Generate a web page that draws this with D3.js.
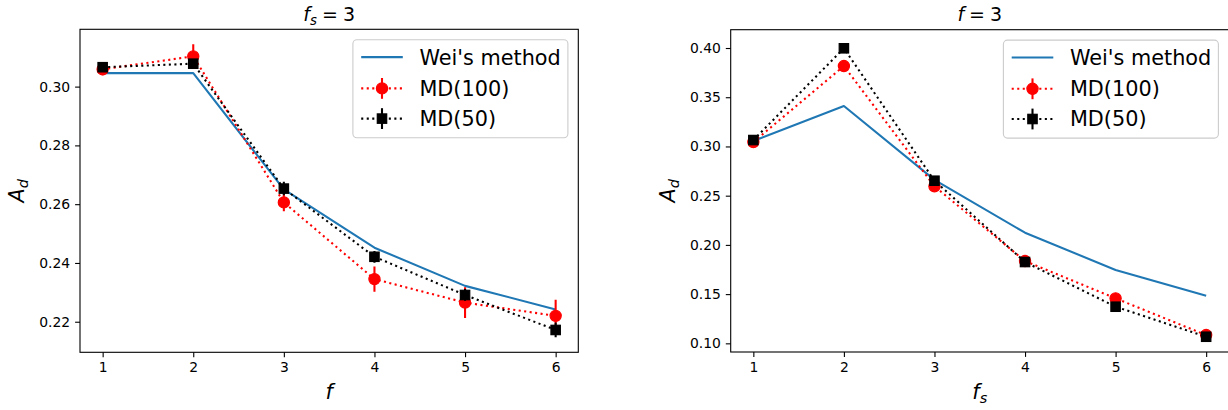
<!DOCTYPE html>
<html>
<head>
<meta charset="utf-8">
<script src="https://cdn.jsdelivr.net/npm/d3@7"></script>
<style>
  body { margin: 0; background: #fff; }
  svg { display: block; font-family: "DejaVu Sans", sans-serif; }
</style>
</head>
<body>
<div class="graphic"></div>
<script>
// x positions (f or fs)
var xs = [1, 2, 3, 4, 5, 6];

// left panel: fs = 3, x = f
var weiLeft = [0.3046, 0.3046, 0.2650, 0.2452, 0.2322, 0.2242];
var md100Left = [0.3059, 0.3103, 0.2606, 0.2345, 0.2265, 0.2220];
var md100LeftErr = [0.002, 0.0041, 0.0030, 0.0043, 0.0052, 0.0055];
var md50Left = [0.3066, 0.3078, 0.2653, 0.2421, 0.2291, 0.2172];
var md50LeftErr = [0.0015, 0.0015, 0.0023, 0.0020, 0.0020, 0.0025];

// right panel: f = 3, x = fs
var weiRight = [0.3055, 0.3411, 0.2660, 0.2124, 0.1745, 0.1484];
var md100Right = [0.3045, 0.3817, 0.2595, 0.1836, 0.1457, 0.1084];
var md100RightErr = [0.003, 0.003, 0.003, 0.003, 0.003, 0.003];
var md50Right = [0.3065, 0.3997, 0.2652, 0.1826, 0.1372, 0.1067];
var md50RightErr = [0.002, 0.002, 0.002, 0.002, 0.002, 0.002];

var leftYTicks = [0.22, 0.24, 0.26, 0.28, 0.30];
var rightYTicks = [0.10, 0.15, 0.20, 0.25, 0.30, 0.35, 0.40];

var legendLabels = ["Wei's method", "MD(100)", "MD(50)"];

var BLUE = "#1f77b4";
var LW = 2.08;

var svg = d3.select(".graphic").append("svg")
  .attr("width", 1228).attr("height", 410);

function panel(opts) {
  var g = svg.append("g");
  var x = d3.scaleLinear().domain([0.75, 6.25]).range([opts.left, opts.right]);
  var y = d3.scaleLinear().domain(opts.ydom).range([opts.bottom, opts.top]);

  var clipId = "clip" + opts.id;
  svg.append("clipPath").attr("id", clipId).append("rect")
    .attr("x", opts.left).attr("y", opts.top)
    .attr("width", opts.right - opts.left).attr("height", opts.bottom - opts.top);

  var plot = g.append("g").attr("clip-path", "url(#" + clipId + ")");

  var line = d3.line().x(function(d, i) { return x(xs[i]); }).y(function(d) { return y(d); });

  // Wei's method
  plot.append("path").datum(opts.wei)
    .attr("d", line).attr("fill", "none")
    .attr("stroke", BLUE).attr("stroke-width", LW).attr("stroke-linejoin", "round");

  function series(vals, errs, color, shape) {
    plot.append("path").datum(vals)
      .attr("d", line).attr("fill", "none")
      .attr("stroke", color).attr("stroke-width", LW)
      .attr("stroke-dasharray", "2.08,3.44");
    plot.selectAll(null).data(vals).enter().append("line")
      .attr("x1", function(d, i) { return x(xs[i]); })
      .attr("x2", function(d, i) { return x(xs[i]); })
      .attr("y1", function(d, i) { return y(d - errs[i]); })
      .attr("y2", function(d, i) { return y(d + errs[i]); })
      .attr("stroke", color).attr("stroke-width", LW);
    if (shape === "circle") {
      plot.selectAll(null).data(vals).enter().append("circle")
        .attr("cx", function(d, i) { return x(xs[i]); })
        .attr("cy", function(d) { return y(d); })
        .attr("r", 5.6).attr("fill", color).attr("stroke", color).attr("stroke-width", 1.2);
    } else {
      plot.selectAll(null).data(vals).enter().append("rect")
        .attr("x", function(d, i) { return x(xs[i]) - 4.7; })
        .attr("y", function(d) { return y(d) - 4.7; })
        .attr("width", 9.4).attr("height", 9.4)
        .attr("fill", color).attr("stroke", color).attr("stroke-width", 1.2);
    }
  }
  series(opts.md100, opts.md100Err, "red", "circle");
  series(opts.md50, opts.md50Err, "black", "square");

  // axes
  var xAxis = d3.axisBottom(x).tickValues(xs).tickSize(4.9).tickPadding(4.9).tickFormat(d3.format("d"));
  var gx = g.append("g").attr("transform", "translate(0," + opts.bottom + ")").call(xAxis);
  var yAxis = d3.axisLeft(y).tickValues(opts.yticks).tickSize(4.9).tickPadding(4.9).tickFormat(d3.format(".2f"));
  var gy = g.append("g").attr("transform", "translate(" + opts.left + ",0)").call(yAxis);
  [gx, gy].forEach(function(a) {
    a.select(".domain").remove();
    a.selectAll("line").attr("stroke", "#000").attr("stroke-width", 1.1);
    a.selectAll("text").attr("font-size", "13.9px").attr("fill", "#000")
      .attr("font-family", "DejaVu Sans");
  });
  gx.selectAll("text").attr("dy", "0.72em");

  g.append("rect")
    .attr("x", opts.left).attr("y", opts.top)
    .attr("width", opts.right - opts.left).attr("height", opts.bottom - opts.top)
    .attr("fill", "none").attr("stroke", "#000").attr("stroke-width", 1.1);

  // title (mathtext-like spacing around "=")
  var cx = (opts.left + opts.right) / 2;
  var t = g.append("text").attr("x", cx).attr("y", 21).attr("text-anchor", "middle")
    .attr("font-size", "19px");
  t.append("tspan").attr("font-style", "italic").text("f");
  if (opts.titleSub) {
    t.append("tspan").attr("font-style", "italic").attr("font-size", "13.3px").attr("dy", 3.8).text(opts.titleSub);
    t.append("tspan").attr("dy", -3.8).attr("dx", 5).text("=");
  } else {
    t.append("tspan").attr("dx", 5).text("=");
  }
  t.append("tspan").attr("dx", 5).text("3");

  // x label
  var xl = g.append("text").attr("x", cx).attr("y", 399).attr("text-anchor", "middle")
    .attr("font-size", "20.8px");
  xl.append("tspan").attr("font-style", "italic").text("f");
  if (opts.xSub) {
    xl.append("tspan").attr("font-style", "italic").attr("font-size", "14.5px").attr("dy", 4).text(opts.xSub);
  }

  // y label
  var yl = g.append("text")
    .attr("transform", "translate(" + opts.ylabX + "," + ((opts.top + opts.bottom) / 2) + ") rotate(-90)")
    .attr("text-anchor", "middle").attr("font-size", "20.8px");
  yl.append("tspan").attr("font-style", "italic").text("A");
  yl.append("tspan").attr("font-style", "italic").attr("font-size", "14.5px").attr("dy", 4).text("d");

  // legend
  var lw = 215, lh = 98;
  var lx = opts.right - 10.4 - lw, ly = opts.top + 10.4;
  var leg = g.append("g");
  leg.append("rect").attr("x", lx).attr("y", ly).attr("width", lw).attr("height", lh)
    .attr("rx", 4).attr("fill", "#fff").attr("fill-opacity", 0.8)
    .attr("stroke", "#cccccc").attr("stroke-width", 1.1);
  var rows = [17.4, 48.7, 78.9];
  var colors = [BLUE, "red", "black"];
  legendLabels.forEach(function(lab, i) {
    var ry = ly + rows[i];
    var hx0 = lx + 8.3, hx1 = hx0 + 41.6, hm = (hx0 + hx1) / 2;
    var ln = leg.append("line").attr("x1", hx0).attr("x2", hx1).attr("y1", ry).attr("y2", ry)
      .attr("stroke", colors[i]).attr("stroke-width", LW);
    if (i > 0) {
      ln.attr("stroke-dasharray", "2.08,3.44");
      leg.append("line").attr("x1", hm).attr("x2", hm).attr("y1", ry - 10.4).attr("y2", ry + 10.4)
        .attr("stroke", colors[i]).attr("stroke-width", LW);
      if (i === 1) {
        leg.append("circle").attr("cx", hm).attr("cy", ry).attr("r", 5.6).attr("fill", "red")
          .attr("stroke", "red").attr("stroke-width", 1.2);
      } else {
        leg.append("rect").attr("x", hm - 4.7).attr("y", ry - 4.7).attr("width", 9.4).attr("height", 9.4)
          .attr("fill", "black").attr("stroke", "black").attr("stroke-width", 1.2);
      }
    }
    leg.append("text").attr("x", hx1 + 16.6).attr("y", ry).attr("dy", "0.36em")
      .attr("font-size", "20.8px").text(lab);
  });
}

panel({
  id: "L", left: 80, right: 578.3, top: 29.3, bottom: 352.3,
  ydom: [0.2096, 0.3195], yticks: leftYTicks,
  wei: weiLeft, md100: md100Left, md100Err: md100LeftErr, md50: md50Left, md50Err: md50LeftErr,
  titleSub: "s", xSub: null, ylabX: 24
});

panel({
  id: "R", left: 730.7, right: 1228.8, top: 29.7, bottom: 352,
  ydom: [0.0912, 0.4186], yticks: rightYTicks,
  wei: weiRight, md100: md100Right, md100Err: md100RightErr, md50: md50Right, md50Err: md50RightErr,
  titleSub: null, xSub: "s", ylabX: 675
});
</script>
</body>
</html>
